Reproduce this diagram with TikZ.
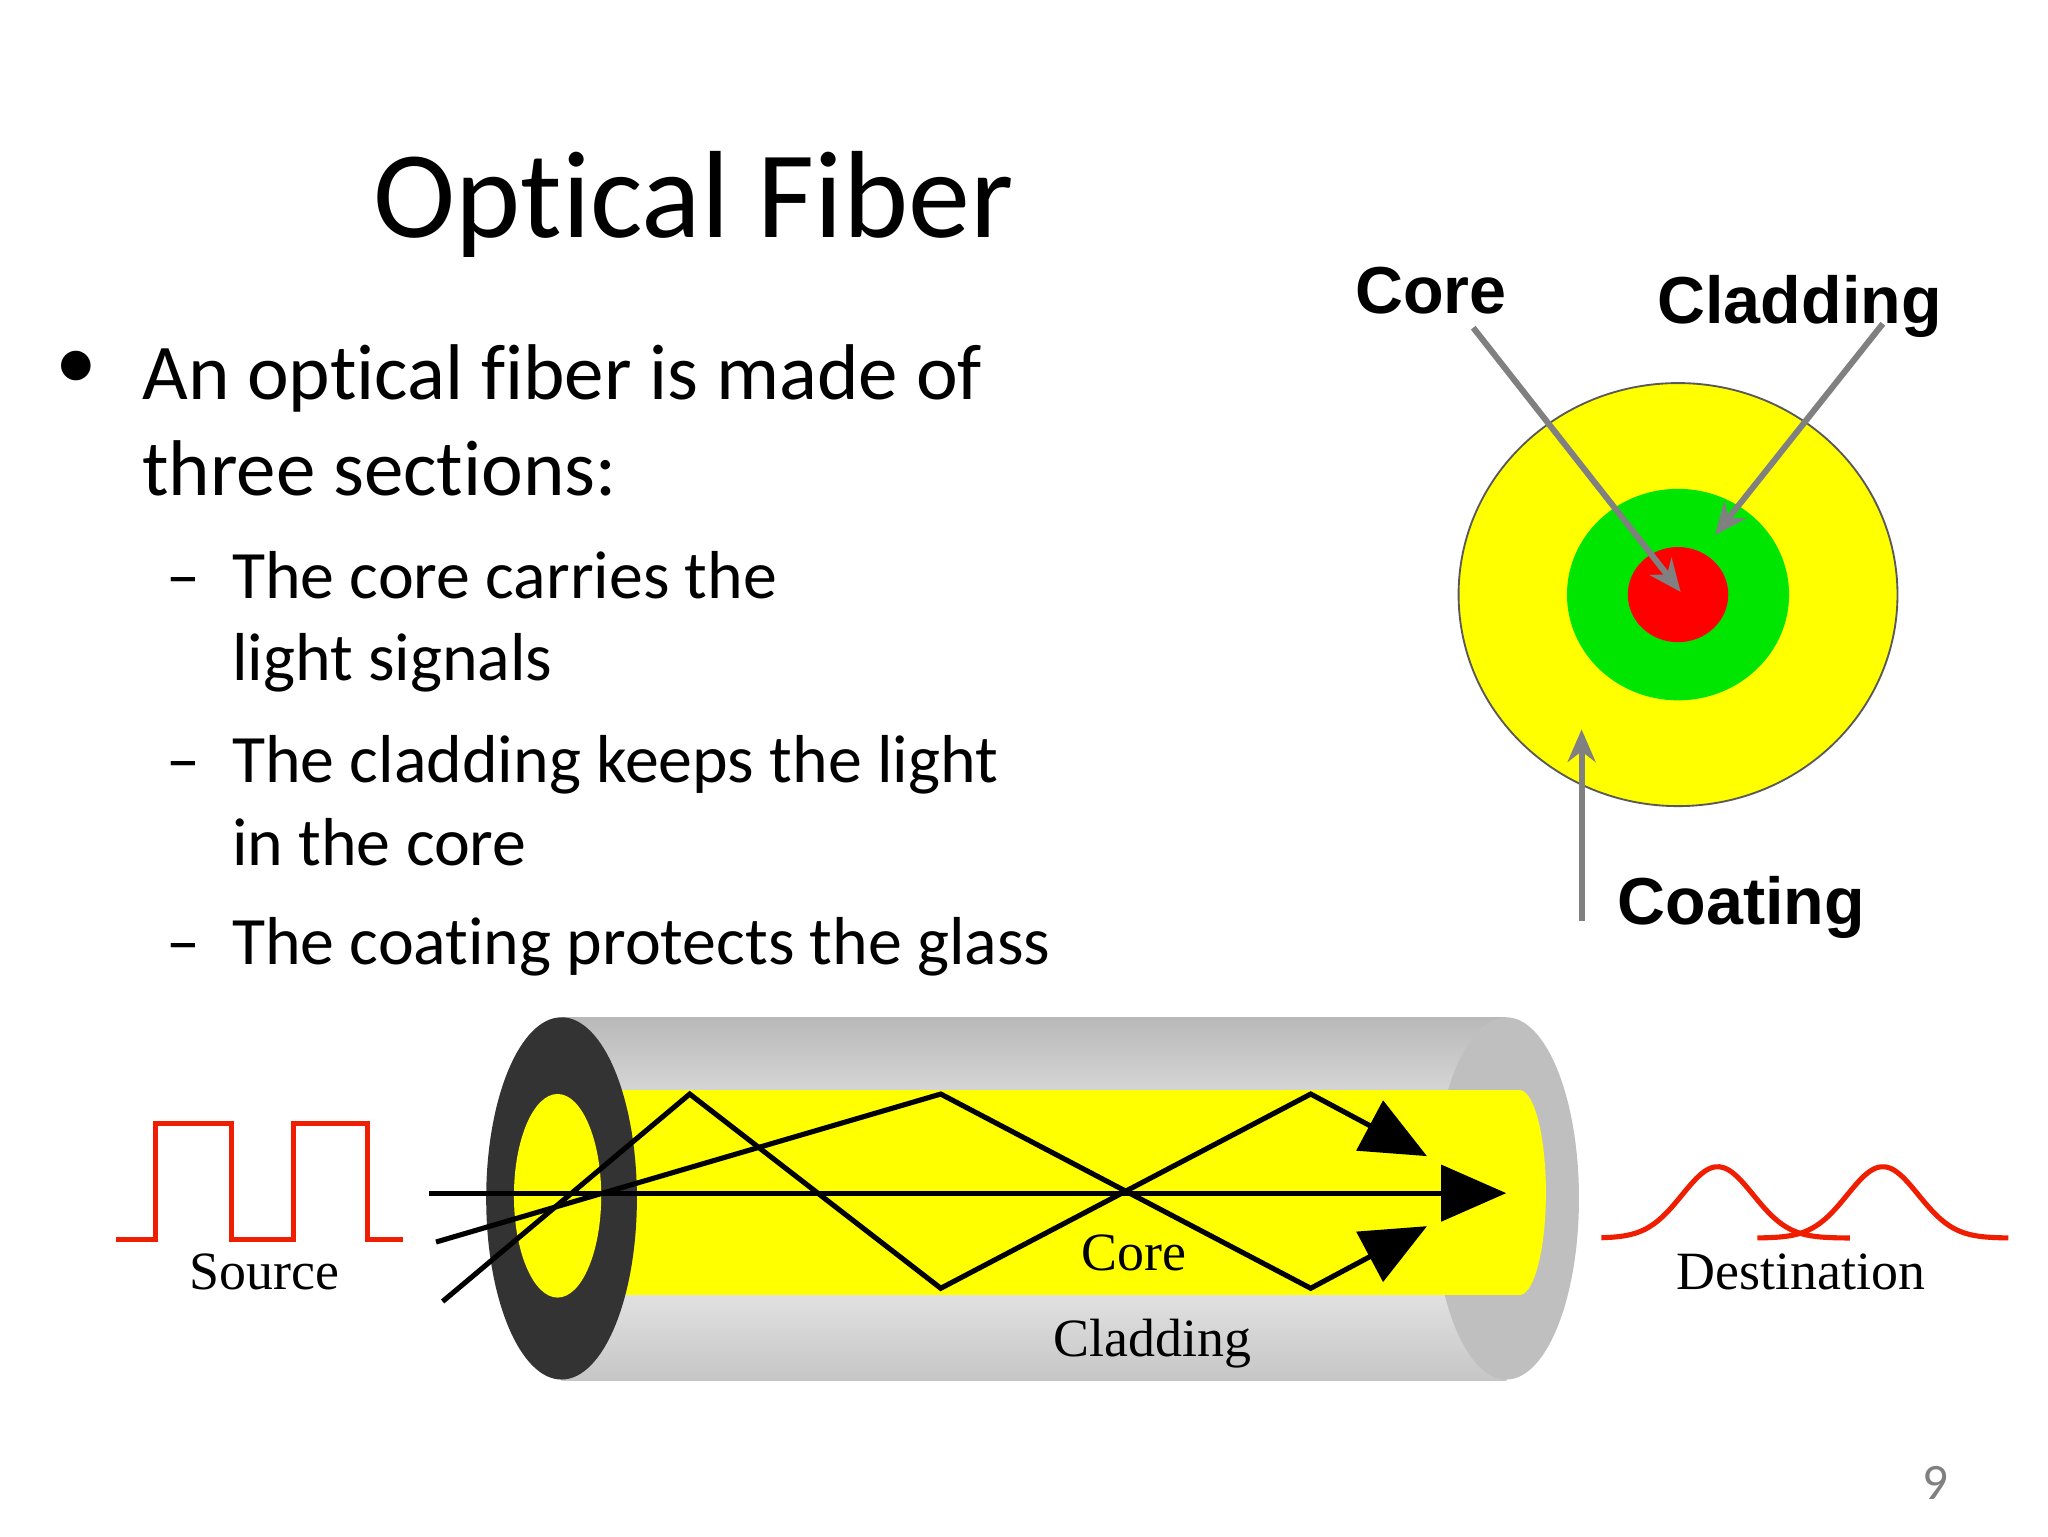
\documentclass[tikz,border=0pt]{standalone}
\usepackage{fontspec}
\setmainfont{Carlito}[Ligatures=NoCommon]
\newfontfamily\arialfont{Liberation Sans}
\newfontfamily\timesfont{Liberation Serif}
\usetikzlibrary{arrows.meta}
\definecolor{fiberyellow}{RGB}{255,255,0}
\definecolor{fibergreen}{RGB}{0,230,0}
\definecolor{signalred}{RGB}{240,30,0}
\tikzset{
  pointer/.style={draw=gray,line width=1.3pt,-{Stealth[length=7pt,width=6pt,fill=gray!70]}},
  ray/.style={line width=1.1pt,black},
  signal/.style={line width=1.1pt,signalred},
  tag/.style={font=\arialfont\bfseries\fontsize{14.3}{16}\selectfont},
  fibertag/.style={font=\timesfont\fontsize{11.6}{13}\selectfont},
  line/.style={anchor=base west,inner sep=0pt,font=\fontsize{17}{18}\selectfont},
  sub/.style={anchor=base west,inner sep=0pt,font=\fontsize{14.6}{16}\selectfont}
}
\begin{document}
\begin{tikzpicture}[x=0.01cm,y=-0.01cm]
    \useasboundingbox (0,0) rectangle (1550,1162.5);

    % Titel und Text
    \node (title) at (525,155) {\fontsize{26.7}{28}\selectfont Optical Fiber};
    \node (bullet) at (58,280) {\fontsize{18}{20}\selectfont\textbullet};
    \node[line] (introA) at (107,302) {An optical fiber is made of};
    \node[line] (introB) at (107,375) {three sections:};
    \node[sub] (dashA) at (125,453) {--};
    \node[sub] (itemA) at (175,453) {The core carries the};
    \node[sub] (itemAb) at (175,515) {light signals};
    \node[sub] (dashB) at (125,592) {--};
    \node[sub] (itemB) at (175,592) {The cladding keeps the light};
    \node[sub] (itemBb) at (175,655) {in the core};
    \node[sub] (dashC) at (125,730) {--};
    \node[sub] (itemC) at (175,730) {The coating protects the glass};

    % Querschnitt
    \draw[gray!70!black,fill=fiberyellow] (1270,450) ellipse [x radius=1.66cm,y radius=1.6cm];
    \fill[fibergreen] (1270,450) ellipse [x radius=0.84cm,y radius=0.8cm];
    \fill[red] (1270,450) ellipse [x radius=0.38cm,y radius=0.36cm];
    \coordinate (coreEnd) at (1272,448);
    \coordinate (claddingEnd) at (1298,405);
    \coordinate (coatingEnd) at (1197,552);
    \node[tag] (coreTag) at (1083,220) {Core};
    \node[tag] (claddingTag) at (1362,232) {Cladding};
    \node[tag] (coatingTag) at (1318,687) {Coating};
    \draw[pointer] (1115,248) -- (coreEnd);
    \draw[pointer] (1425,245) -- (claddingEnd);
    \draw[pointer] (1197,697) -- (coatingEnd);

    % Faser
    \shade[top color=gray!55,bottom color=gray!45,middle color=white] (425,770) rectangle (1140,1045);
    \fill[gray!50] (1140,907) ellipse [x radius=0.55cm,y radius=1.37cm];
    \fill[fiberyellow] (425,825) -- (1150,825) arc[start angle=90,end angle=-90,x radius=0.2cm,y radius=0.775cm] -- (425,980) -- cycle;
    \fill[black!80] (425,907) ellipse [x radius=0.57cm,y radius=1.37cm];
    \fill[fiberyellow] (422,905) ellipse [x radius=0.33cm,y radius=0.77cm];

    % Strahlen
    \coordinate (rayIn) at (325,903);
    \coordinate (rayOut) at (1140,903);
    \draw[ray,-{Triangle[length=14pt,width=12pt]}] (rayIn) -- (rayOut);
    \draw[ray,-{Triangle[length=14pt,width=12pt]}] (335,985) -- (522,828) -- (712,975) -- (992,828) -- (1080,875);
    \draw[ray,-{Triangle[length=14pt,width=12pt]}] (330,940) -- (712,828) -- (992,975) -- (1080,928);
    \node[fibertag] (coreLabel) at (858,948) {Core};
    \node[fibertag] (claddingLabel) at (872,1017) {Cladding};

    % Signale
    \draw[signal] (88,938) -- (118,938) -- (118,850) -- (175,850) -- (175,938) -- (222,938)
      -- (222,850) -- (278,850) -- (278,938) -- (305,938);
    \node[fibertag] (sourceLabel) at (200,963) {Source};
    \draw[signal] plot[domain=1212:1400,samples=60,smooth] (\x,{937-54*exp(-((\x-1300)/38)^2)});
    \draw[signal] plot[domain=1330:1520,samples=60,smooth] (\x,{937-54*exp(-((\x-1425)/38)^2)});
    \node[fibertag] (destLabel) at (1363,963) {Destination};

    \node[gray,font=\fontsize{11}{13}\selectfont] (pageNo) at (1465,1122) {9};
\end{tikzpicture}
\end{document}
